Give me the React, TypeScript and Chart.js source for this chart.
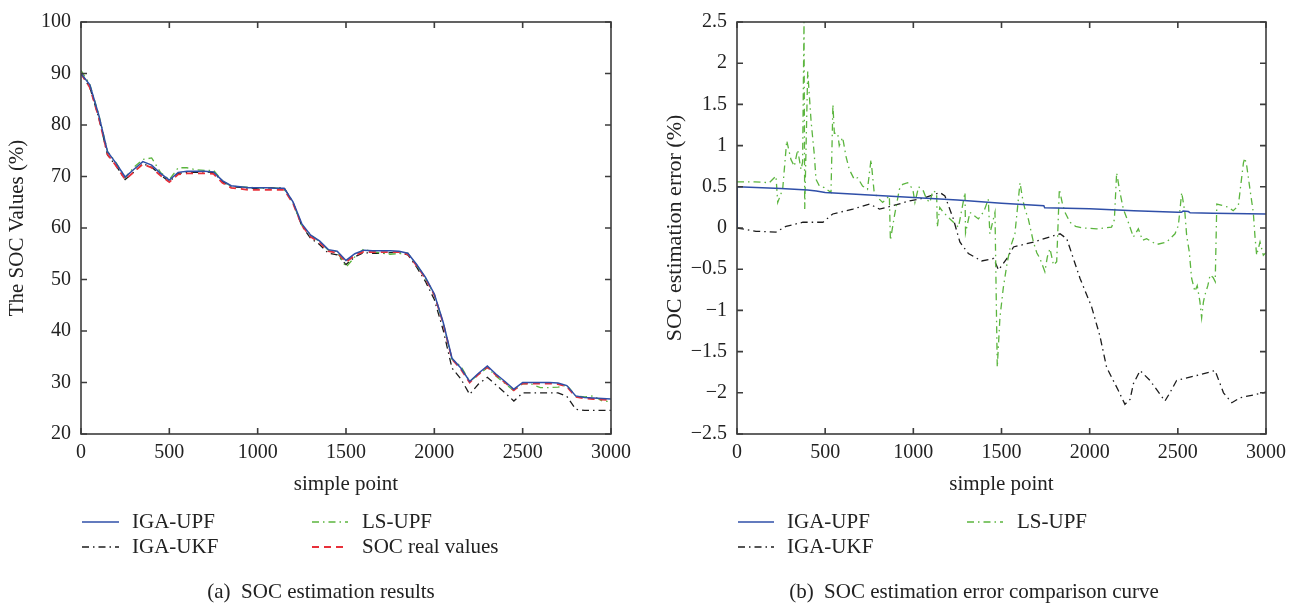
import React, { useEffect, useRef } from "react";
import { Chart, registerables } from "chart.js";

Chart.register(...registerables);

const FONT = "'Liberation Serif', 'Times New Roman', serif";

// ---------- Panel (a): SOC estimation results ----------
const sampleX = [0, 50, 100, 150, 200, 250, 300, 350, 400, 450, 500, 550, 600, 650, 700, 750, 800, 850, 900, 950, 1000, 1050, 1100, 1150, 1200, 1250, 1300, 1350, 1400, 1450, 1500, 1550, 1600, 1650, 1700, 1750, 1800, 1850, 1900, 1950, 2000, 2050, 2100, 2150, 2200, 2250, 2300, 2350, 2400, 2450, 2500, 2550, 2600, 2650, 2700, 2750, 2800, 2850, 2900, 2950, 3000];

const socReal = [90.0, 87.3, 81.5, 74.3, 72.0, 69.4, 70.9, 72.4, 71.7, 70.2, 68.9, 70.4, 70.6, 70.6, 70.6, 70.5, 68.8, 67.8, 67.6, 67.4, 67.4, 67.4, 67.4, 67.4, 64.8, 60.5, 58.3, 57.2, 55.5, 55.2, 53.4, 54.7, 55.4, 55.3, 55.3, 55.3, 55.3, 54.9, 52.7, 50.2, 47.0, 41.5, 34.5, 32.6, 30.0, 31.6, 33.0, 31.4, 30.0, 28.5, 29.8, 29.8, 29.8, 29.8, 29.7, 29.2, 27.2, 26.9, 26.8, 26.7, 26.6];

const socIgaUpf = [90.0, 87.8, 82.0, 74.8, 72.5, 69.9, 71.4, 72.9, 72.2, 70.6, 69.3, 70.8, 71.0, 71.0, 71.0, 70.9, 69.2, 68.2, 68.0, 67.8, 67.8, 67.8, 67.7, 67.7, 65.1, 60.8, 58.6, 57.5, 55.8, 55.5, 53.7, 55.0, 55.7, 55.6, 55.6, 55.6, 55.5, 55.1, 52.9, 50.4, 47.2, 41.7, 34.7, 32.8, 30.2, 31.8, 33.2, 31.6, 30.2, 28.7, 30.0, 30.0, 30.0, 30.0, 29.9, 29.4, 27.4, 27.1, 27.0, 26.9, 26.8];

const socIgaUkf = [90.0, 87.3, 81.5, 74.2, 72.0, 69.4, 70.9, 72.5, 71.8, 70.3, 69.0, 70.6, 70.8, 70.8, 70.9, 70.8, 69.0, 68.0, 67.9, 67.7, 67.7, 67.8, 67.8, 67.8, 65.0, 60.4, 58.0, 56.8, 55.1, 54.8, 52.9, 54.4, 55.2, 55.1, 55.1, 55.2, 55.2, 54.8, 52.4, 49.6, 46.1, 40.2, 32.8, 30.7, 27.7, 29.7, 31.0, 29.5, 28.0, 26.4, 28.0, 28.0, 28.0, 28.0, 28.0, 27.3, 24.8, 24.6, 24.6, 24.6, 24.6];

const socLsUpf = [90.6, 87.9, 82.1, 74.9, 72.6, 69.8, 71.8, 73.3, 73.6, 70.8, 69.4, 71.7, 71.7, 71.3, 71.2, 71.2, 69.2, 68.1, 68.0, 67.9, 67.8, 67.8, 67.8, 67.5, 64.9, 60.5, 58.7, 57.3, 55.7, 55.4, 52.4, 54.4, 55.9, 55.4, 55.1, 54.9, 55.0, 55.1, 52.8, 50.2, 47.0, 41.5, 34.5, 33.2, 30.2, 31.5, 32.9, 31.2, 29.8, 28.4, 29.8, 29.7, 29.0, 29.0, 29.1, 29.5, 27.4, 27.2, 27.4, 26.4, 26.3];

const socTicksY = [20, 30, 40, 50, 60, 70, 80, 90, 100];
const pointTicksX = [0, 500, 1000, 1500, 2000, 2500, 3000];

// ---------- Panel (b): SOC estimation error ----------
const errUpfX = [0, 1, 250, 400, 450, 500, 750, 1000, 1250, 1500, 1740, 1745, 2000, 2250, 2500, 2520, 2530, 2560, 2570, 2700, 3000];
const errUpfY = [0, 0.5, 0.48, 0.46, 0.45, 0.43, 0.40, 0.37, 0.34, 0.30, 0.27, 0.245, 0.235, 0.21, 0.19, 0.19, 0.205, 0.2, 0.185, 0.18, 0.17];

const errUkfX = [0, 108, 221, 278, 374, 487, 543, 657, 752, 808, 884, 979, 1037, 1151, 1179, 1227, 1264, 1312, 1387, 1455, 1483, 1531, 1568, 1682, 1832, 1870, 1945, 2010, 2058, 2096, 2162, 2200, 2229, 2248, 2286, 2342, 2427, 2455, 2493, 2607, 2711, 2759, 2806, 2853, 2985, 3000];
const errUkfY = [0, -0.04, -0.05, 0.02, 0.07, 0.07, 0.17, 0.23, 0.29, 0.23, 0.27, 0.33, 0.35, 0.43, 0.39, 0.11, -0.17, -0.31, -0.40, -0.37, -0.51, -0.37, -0.23, -0.17, -0.07, -0.13, -0.61, -0.95, -1.31, -1.69, -1.97, -2.14, -2.08, -1.89, -1.73, -1.85, -2.10, -2.00, -1.85, -1.79, -1.73, -2.00, -2.12, -2.06, -2.00, -1.99];

const errLsX = [0, 100, 183, 221, 231, 259, 282, 306, 325, 344, 363, 372, 380, 384, 401, 420, 438, 448, 467, 495, 533, 544, 552, 571, 580, 599, 618, 637, 665, 684, 712, 740, 760, 769, 778, 797, 826, 864, 870, 893, 921, 940, 968, 997, 1009, 1030, 1057, 1075, 1094, 1110, 1132, 1136, 1150, 1170, 1208, 1256, 1293, 1296, 1321, 1369, 1400, 1425, 1434, 1463, 1476, 1491, 1510, 1530, 1548, 1576, 1605, 1620, 1633, 1652, 1681, 1700, 1718, 1746, 1760, 1775, 1795, 1813, 1828, 1845, 1860, 1888, 1920, 1964, 2040, 2124, 2140, 2153, 2172, 2191, 2219, 2248, 2276, 2300, 2323, 2380, 2437, 2484, 2503, 2522, 2540, 2550, 2565, 2578, 2597, 2610, 2625, 2635, 2645, 2654, 2670, 2683, 2700, 2712, 2721, 2759, 2790, 2814, 2843, 2872, 2880, 2891, 2909, 2928, 2937, 2947, 2966, 2985, 3000];
const errLsY = [0.56, 0.56, 0.55, 0.63, 0.31, 0.47, 1.06, 0.83, 0.75, 0.95, 0.71, 0.80, 2.5, 0.23, 1.9, 1.3, 0.9, 0.59, 0.51, 0.49, 0.43, 1.5, 1.15, 1.15, 1.0, 1.1, 0.87, 0.71, 0.59, 0.61, 0.51, 0.47, 0.83, 0.63, 0.43, 0.37, 0.31, 0.39, -0.15, 0.15, 0.47, 0.53, 0.55, 0.47, 0.31, 0.5, 0.45, 0.35, 0.31, 0.45, 0.43, 0.01, 0.25, 0.19, 0.11, 0.01, 0.43, -0.06, 0.19, 0.11, 0.2, 0.35, -0.07, 0.19, -1.69, -1.09, -0.73, -0.45, -0.25, -0.07, 0.55, 0.35, 0.23, 0.11, -0.17, -0.3, -0.37, -0.53, -0.35, -0.25, -0.45, -0.41, 0.47, 0.3, 0.19, 0.07, 0.02, 0.0, -0.01, 0.01, 0.1, 0.67, 0.43, 0.23, 0.07, -0.11, -0.01, -0.15, -0.13, -0.2, -0.17, -0.07, 0.03, 0.43, 0.19, -0.09, -0.29, -0.61, -0.77, -0.7, -0.89, -1.09, -0.9, -0.81, -0.7, -0.57, -0.6, -0.65, 0.29, 0.27, 0.25, 0.21, 0.27, 0.79, 0.85, 0.75, 0.47, 0.19, -0.09, -0.33, -0.17, -0.33, -0.3];

const errTicksY = [-2.5, -2, -1.5, -1, -0.5, 0, 0.5, 1, 1.5, 2, 2.5];

const BLUE = "#2f4fa8";
const GREEN = "#5bb53e";
const RED = "#e8303a";
const BLACK = "#1c1c1c";

const pts = (xs: number[], ys: number[]) => xs.map((x, i) => ({ x, y: ys[i] }));

const lineDs = (label: string, data: any[], color: string, width: number, dash: number[], order: number) => ({
  label,
  data,
  borderColor: color,
  backgroundColor: color,
  borderWidth: width,
  borderDash: dash,
  pointRadius: 0,
  tension: 0,
  fill: false,
  order,
});

const framePlugin = {
  id: "frame",
  afterDraw(chart: any) {
    const { ctx, chartArea } = chart;
    const { left, right, top, bottom } = chartArea;
    const xs = chart.scales.x;
    const ys = chart.scales.y;
    const L = 6;
    ctx.save();
    ctx.strokeStyle = "#3c3c3c";
    ctx.lineWidth = 1.6;
    ctx.setLineDash([]);
    ctx.strokeRect(left, top, right - left, bottom - top);
    ctx.beginPath();
    xs.ticks.forEach((t: any) => {
      const p = xs.getPixelForValue(t.value);
      ctx.moveTo(p, bottom);
      ctx.lineTo(p, bottom - L);
      ctx.moveTo(p, top);
      ctx.lineTo(p, top + L);
    });
    ys.ticks.forEach((t: any) => {
      const p = ys.getPixelForValue(t.value);
      ctx.moveTo(left, p);
      ctx.lineTo(left + L, p);
      ctx.moveTo(right, p);
      ctx.lineTo(right - L, p);
    });
    ctx.stroke();
    ctx.restore();
  },
};

type LegendItem = { ds: number; x0: number; x1: number; tx: number; y: number };

const makeOverlay = (items: LegendItem[], caption: string, cx: number, cy: number) => ({
  id: "overlay",
  afterDraw(chart: any) {
    const ctx = chart.ctx;
    ctx.save();
    items.forEach((it) => {
      const ds = chart.data.datasets[it.ds];
      ctx.beginPath();
      ctx.setLineDash(ds.borderDash || []);
      ctx.strokeStyle = ds.borderColor;
      ctx.lineWidth = ds.borderWidth;
      ctx.moveTo(it.x0, it.y);
      ctx.lineTo(it.x1, it.y);
      ctx.stroke();
      ctx.setLineDash([]);
      ctx.fillStyle = "#222";
      ctx.font = `21px ${FONT}`;
      ctx.textBaseline = "middle";
      ctx.textAlign = "left";
      ctx.fillText(ds.label, it.tx, it.y);
    });
    ctx.fillStyle = "#222";
    ctx.font = `21px ${FONT}`;
    ctx.textBaseline = "middle";
    ctx.textAlign = "center";
    ctx.fillText(caption, cx, cy);
    ctx.restore();
  },
});

const fmt = (v: number) => String(v).replace("-", "\u2212");

const makeOptions = (opts: {
  yMin: number;
  yMax: number;
  yTicks: number[];
  yTitle: string;
  yWidth: number;
  yTitlePad: number;
  yTitleSize: number;
  padRight: number;
}) => ({
  responsive: false,
  animation: false as const,
  devicePixelRatio: 1,
  layout: { padding: { left: 0, right: opts.padRight, top: 16, bottom: 103 } },
  plugins: { legend: { display: false }, tooltip: { enabled: false } },
  scales: {
    x: {
      type: "linear" as const,
      min: 0,
      max: 3000,
      grid: { display: false, drawTicks: false },
      border: { display: false },
      afterBuildTicks: (s: any) => {
        s.ticks = pointTicksX.map((v) => ({ value: v }));
      },
      afterFit: (s: any) => {
        s.height = 70;
      },
      ticks: {
        padding: 7,
        color: "#222",
        font: { family: FONT, size: 20 },
        maxRotation: 0,
        callback: (v: any) => fmt(v),
      },
      title: {
        display: true,
        text: "simple point",
        color: "#222",
        font: { family: FONT, size: 21 },
        padding: { top: 0, bottom: 7 },
      },
    },
    y: {
      type: "linear" as const,
      min: opts.yMin,
      max: opts.yMax,
      grid: { display: false, drawTicks: false },
      border: { display: false },
      afterBuildTicks: (s: any) => {
        s.ticks = opts.yTicks.map((v) => ({ value: v }));
      },
      afterFit: (s: any) => {
        s.width = opts.yWidth;
      },
      ticks: {
        padding: 10,
        color: "#222",
        font: { family: FONT, size: 20 },
        callback: (v: any) => fmt(v),
      },
      title: {
        display: true,
        text: opts.yTitle,
        color: "#222",
        font: { family: FONT, size: opts.yTitleSize },
        padding: { top: opts.yTitlePad, bottom: 0 },
      },
    },
  },
});

export default function App() {
  const leftRef = useRef<HTMLCanvasElement | null>(null);
  const rightRef = useRef<HTMLCanvasElement | null>(null);

  useEffect(() => {
    if (!leftRef.current || !rightRef.current) return;

    const leftChart = new Chart(leftRef.current, {
      type: "line",
      data: {
        datasets: [
          lineDs("IGA-UPF", pts(sampleX, socIgaUpf), BLUE, 1.5, [], 0),
          lineDs("IGA-UKF", pts(sampleX, socIgaUkf), BLACK, 1.3, [7, 4, 1.5, 4], 3),
          lineDs("LS-UPF", pts(sampleX, socLsUpf), GREEN, 1.3, [7, 4, 1.5, 4], 2),
          lineDs("SOC real values", pts(sampleX, socReal), RED, 1.8, [7, 5], 1),
        ],
      },
      options: makeOptions({
        yMin: 20,
        yMax: 100,
        yTicks: socTicksY,
        yTitle: "The SOC Values (%)",
        yWidth: 81,
        yTitlePad: 5,
        yTitleSize: 21,
        padRight: 37,
      }) as any,
      plugins: [
        framePlugin,
        makeOverlay(
          [
            { ds: 0, x0: 82, x1: 119, tx: 132, y: 522 },
            { ds: 2, x0: 312, x1: 348, tx: 362, y: 522 },
            { ds: 1, x0: 82, x1: 119, tx: 132, y: 547 },
            { ds: 3, x0: 312, x1: 348, tx: 362, y: 547 },
          ],
          "(a)  SOC estimation results",
          321,
          592
        ),
      ],
    });

    const rightChart = new Chart(rightRef.current, {
      type: "line",
      data: {
        datasets: [
          lineDs("IGA-UPF", pts(errUpfX, errUpfY), BLUE, 1.5, [], 0),
          lineDs("IGA-UKF", pts(errUkfX, errUkfY), BLACK, 1.3, [7, 4, 1.5, 4], 2),
          lineDs("LS-UPF", pts(errLsX, errLsY), GREEN, 1.3, [7, 4, 1.5, 4], 1),
        ],
      },
      options: makeOptions({
        yMin: -2.5,
        yMax: 2.5,
        yTicks: errTicksY,
        yTitle: "SOC estimation error (%)",
        yWidth: 89,
        yTitlePad: 14,
        yTitleSize: 22,
        padRight: 30,
      }) as any,
      plugins: [
        framePlugin,
        makeOverlay(
          [
            { ds: 0, x0: 90, x1: 126, tx: 139, y: 522 },
            { ds: 2, x0: 319, x1: 355, tx: 369, y: 522 },
            { ds: 1, x0: 90, x1: 126, tx: 139, y: 547 },
          ],
          "(b)  SOC estimation error comparison curve",
          326,
          592
        ),
      ],
    });

    return () => {
      leftChart.destroy();
      rightChart.destroy();
    };
  }, []);

  return (
    <div style={{ position: "fixed", left: 0, top: 0, width: 1296, height: 607, background: "#fff" }}>
      <canvas
        ref={leftRef}
        width={648}
        height={607}
        style={{ position: "absolute", left: 0, top: 0, width: 648, height: 607 }}
      />
      <canvas
        ref={rightRef}
        width={648}
        height={607}
        style={{ position: "absolute", left: 648, top: 0, width: 648, height: 607 }}
      />
    </div>
  );
}
